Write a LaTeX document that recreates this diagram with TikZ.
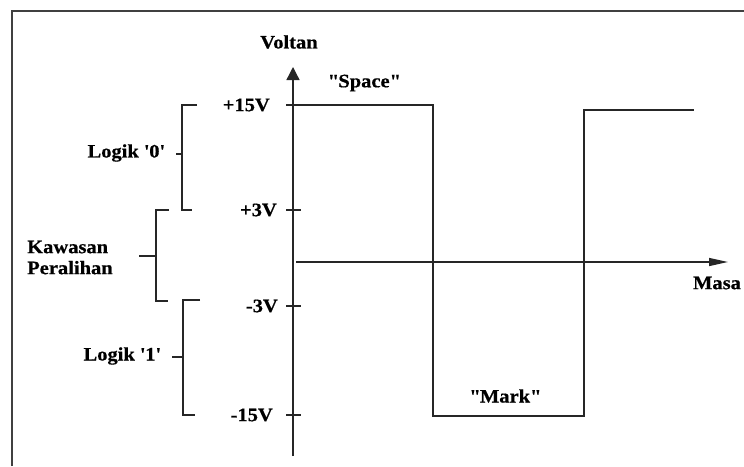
\documentclass[tikz,border=0pt]{standalone}
\usepackage{fontspec}
\setmainfont[FakeStretch=1.08,FakeBold=0.6]{Liberation Serif}
\usetikzlibrary{arrows.meta}
\begin{document}
\begin{tikzpicture}[x=1pt,y=-1pt,
  ln/.style={line width=1.3pt,draw=black!85},
  lbl/.style={font=\fontsize{19}{21}\selectfont\bfseries,inner sep=0pt,text=black}]
\useasboundingbox (0,0) rectangle (744,466);
% frame
\draw[line width=1.4pt,draw=black!75] (12,466) -- (12,11) -- (744,11);
% axes
\coordinate (ybot) at (293,456);
\coordinate (ytop) at (293,67);
\coordinate (xl) at (296,262);
\coordinate (xr) at (728,262);
\draw[ln,-{Triangle[length=13pt,width=13pt]}] (ybot) -- (ytop);
\draw[ln,-{Triangle[length=19pt,width=8pt]}] (xl) -- (xr);
% ticks
\draw[ln] (286,210) -- (301,210);
\draw[ln] (286,306) -- (301,306);
\draw[ln] (286,415) -- (301,415);
% waveform
\coordinate (w0) at (286,105);
\coordinate (w1) at (433,105);
\coordinate (w2) at (433,416);
\coordinate (w3) at (584,416);
\coordinate (w4) at (584,110);
\coordinate (w5) at (694,110);
\draw[ln] (w0) -- (w1) -- (w2) -- (w3) -- (w4) -- (w5);
% labels
\node[lbl] (voltan) at (289,42) {Voltan};
\node[lbl] (space) at (364,83) {\textquotedbl Space\textquotedbl};
\node[lbl] (mark) at (505,396) {\textquotedbl Mark\textquotedbl};
\node[lbl] (masa) at (717,283) {Masa};
\node[lbl,anchor=east] (v15) at (270,105) {+15V};
\node[lbl,anchor=east] (v3) at (277,210) {+3V};
\node[lbl,anchor=east] (vm3) at (278,306) {-3V};
\node[lbl,anchor=east] (vm15) at (273,415) {-15V};
\node[lbl,anchor=east] (l0) at (165,153) {Logik \textquotesingle 0\textquotesingle};
\node[lbl,anchor=east] (l1) at (161,356) {Logik \textquotesingle 1\textquotesingle};
\node[lbl,anchor=west,align=left] (kp) at (27,257.5) {Kawasan\\Peralihan};
% brackets
\draw[ln] (197,105) -- (182,105) -- (182,210) -- (192,210);
\draw[ln] (176,154) -- (182,154);
\draw[ln] (169,210) -- (156,210) -- (156,301) -- (168,301);
\draw[ln] (139,256) -- (156,256);
\draw[ln] (200,300) -- (183,300) -- (183,415) -- (195,415);
\draw[ln] (172,357) -- (183,357);
\end{tikzpicture}
\end{document}
